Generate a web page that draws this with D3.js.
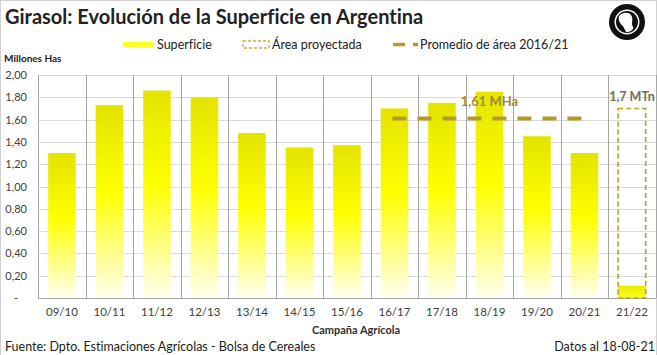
<!DOCTYPE html>
<html><head><meta charset="utf-8">
<script src="https://cdn.jsdelivr.net/npm/d3@7"></script>
<style>body{margin:0;background:#fff}svg{display:block}text{font-family:Lato,"Open Sans",sans-serif;font-variant-ligatures:none}</style>
</head><body>
<svg id="c" width="657" height="355"></svg>
<script>
const categories = ["09/10","10/11","11/12","12/13","13/14","14/15","15/16","16/17","17/18","18/19","19/20","20/21","21/22"];
const superficie = [1.30,1.73,1.86,1.80,1.48,1.35,1.37,1.70,1.75,1.85,1.45,1.30,0.11];
const areaProyectada = {cat:"21/22", value:1.70, label:"1,7 MTn"};
const promedio = {from:"16/17", to:"20/21", value:1.61, label:"1,61 MHa"};
const yTicks = [0,0.2,0.4,0.6,0.8,1.0,1.2,1.4,1.6,1.8,2.0];

const svg = d3.select("#c");
const W=657,H=355;
svg.append("rect").attr("x",0.5).attr("y",0.5).attr("width",W-1).attr("height",H+5).attr("fill","#fff").attr("stroke","#d0d0d0");

const x = d3.scaleBand().domain(categories).range([38.2,655.7]).paddingInner(0.42).paddingOuter(0.21);
const y = d3.scaleLinear().domain([0,2]).range([298,75]);
const fmt = v => v===0 ? "-" : d3.format(".2f")(v).replace(".",",");

const defs = svg.append("defs");
const g = defs.append("linearGradient").attr("id","gb").attr("x1",0).attr("y1",0).attr("x2",0).attr("y2",1);
g.append("stop").attr("offset","0%").attr("stop-color","#e3e300");
g.append("stop").attr("offset","45%").attr("stop-color","#ffff00");
g.append("stop").attr("offset","100%").attr("stop-color","#fffff0");
const g2 = defs.append("linearGradient").attr("id","gs").attr("x1",0).attr("y1",0).attr("x2",0).attr("y2",1);
g2.append("stop").attr("offset","0%").attr("stop-color","#e8e800");
g2.append("stop").attr("offset","100%").attr("stop-color","#ffff20");

// horizontal gridlines
svg.append("g").selectAll("line").data(yTicks.filter(d=>d>0)).join("line")
  .attr("x1",x.range()[0]).attr("x2",x.range()[1]).attr("y1",d=>Math.round(y(d))+0.5).attr("y2",d=>Math.round(y(d))+0.5)
  .attr("stroke","#d9d9d9");
// vertical gridlines at band boundaries
const step = x.step();
const bounds = d3.range(categories.length+1).map(i=>x.range()[0]+i*step);
svg.append("g").selectAll("line").data(bounds).join("line")
  .attr("x1",d=>Math.round(d)+0.5).attr("x2",d=>Math.round(d)+0.5).attr("y1",y(2)).attr("y2",y(0))
  .attr("stroke","#a6a6a6");
// baseline
svg.append("line").attr("x1",x.range()[0]).attr("x2",x.range()[1]).attr("y1",Math.round(y(0))+0.5).attr("y2",Math.round(y(0))+0.5).attr("stroke","#a6a6a6");

// y tick labels
svg.append("g").selectAll("text").data(yTicks).join("text")
  .attr("x",d=>d===0?16:27).attr("y",d=>y(d)+4).attr("text-anchor",d=>d===0?"middle":"end")
  .attr("font-size",11).attr("fill","#404040").text(fmt);

// bars
svg.append("g").selectAll("rect").data(categories.map((c,i)=>({c,v:superficie[i]}))).join("rect")
  .attr("x",d=>x(d.c)).attr("width",x.bandwidth())
  .attr("y",d=>y(d.v)).attr("height",d=>y(0)-y(d.v))
  .attr("fill",d=>d.v<0.5?"url(#gs)":"url(#gb)");

// projected area box
svg.append("rect").attr("x",x(areaProyectada.cat)).attr("width",x.bandwidth())
  .attr("y",y(areaProyectada.value)).attr("height",y(0)-y(areaProyectada.value))
  .attr("fill","none").attr("stroke","#b9a032").attr("stroke-width",1.6).attr("stroke-dasharray","5,3");
svg.append("text").attr("x",x(areaProyectada.cat)+x.bandwidth()/2).attr("y",y(areaProyectada.value)-7)
  .attr("text-anchor","middle").attr("font-size",12.5).attr("font-weight","bold").attr("fill","#707060").text(areaProyectada.label);

// promedio line
const lineData = [promedio.from, promedio.to].map(c=>[x(c)+x.bandwidth()/2-2, y(promedio.value)]);
svg.append("path").attr("d",d3.line()(lineData)).attr("stroke","#b8982a").attr("stroke-width",4)
  .attr("stroke-dasharray","14,11").attr("fill","none");
svg.append("text").attr("x",x("18/19")+x.bandwidth()/2).attr("y",106)
  .attr("text-anchor","middle").attr("font-size",13).attr("font-weight","bold").attr("fill","#a08a35").text(promedio.label);

// x labels
svg.append("g").selectAll("text").data(categories).join("text")
  .attr("x",d=>x(d)+x.bandwidth()/2).attr("y",316).attr("text-anchor","middle")
  .attr("font-size",11.5).attr("fill","#404040").text(d=>d);
svg.append("text").attr("x",356).attr("y",334).attr("text-anchor","middle").attr("font-size",11).attr("font-weight","bold").attr("fill","#303030").text("Campaña  Agrícola");

// title
svg.append("text").attr("x",5).attr("y",24).attr("font-size",20).attr("font-weight","bold").attr("fill","#222").text("Girasol: Evolución de la Superficie en Argentina");
svg.append("text").attr("x",4).attr("y",62).attr("font-size",10).attr("font-weight","bold").attr("fill","#222").text("Millones  Has");

// legend
const lg = svg.append("g");
lg.append("rect").attr("x",123).attr("y",42).attr("width",30).attr("height",5).attr("fill","#ffff20");
lg.append("text").attr("x",157).attr("y",49).attr("font-size",12.5).attr("fill","#222").text("Superficie");
lg.append("rect").attr("x",243).attr("y",41).attr("width",26).attr("height",7).attr("fill","none").attr("stroke","#c8b040").attr("stroke-width",1.3).attr("stroke-dasharray","3,2");
lg.append("text").attr("x",272).attr("y",49).attr("font-size",12.5).attr("fill","#222").text("Área proyectada");
lg.append("line").attr("x1",393).attr("x2",418).attr("y1",44.5).attr("y2",44.5).attr("stroke","#b8982a").attr("stroke-width",3.5).attr("stroke-dasharray","12,8");
lg.append("text").attr("x",420).attr("y",49).attr("font-size",12.5).attr("fill","#222").text("Promedio de área 2016/21");

// logo
const lo = svg.append("g").attr("transform","translate(627,22)");
lo.append("circle").attr("r",18).attr("fill","#111");
lo.append("circle").attr("r",12.5).attr("fill","#fff");
lo.append("circle").attr("r",11).attr("fill","#111");
lo.append("path").attr("d","M-8,-6 C-4,-11 4,-10 5,-5 C6,-1 4,2 6,5 C7,8 3,10 -1,10 L-4,4 C-7,2 -9,-2 -8,-6 Z").attr("fill","#fff");

// footer
svg.append("text").attr("x",5).attr("y",351).attr("font-size",12.5).attr("fill","#222").text("Fuente: Dpto. Estimaciones Agrícolas - Bolsa de Cereales");
svg.append("text").attr("x",655).attr("y",351).attr("text-anchor","end").attr("font-size",12.5).attr("fill","#222").text("Datos al 18-08-21");
</script>
</body></html>
